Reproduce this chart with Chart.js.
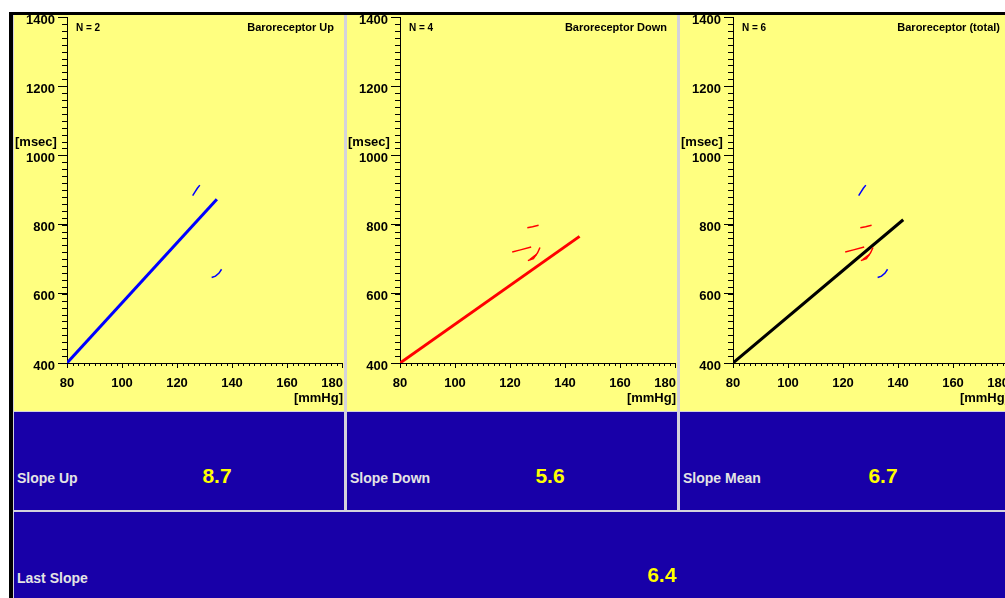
<!DOCTYPE html>
<html>
<head>
<meta charset="utf-8">
<script src="https://cdn.jsdelivr.net/npm/chart.js@4.4.1/dist/chart.umd.min.js"></script>
<style>
  html, body { margin: 0; padding: 0; background: #fff; }
  #frame { position: relative; width: 1005px; height: 598px; overflow: hidden; background: #fff;
           font-family: "Liberation Sans", Arial, sans-serif; }
  .abs { position: absolute; white-space: nowrap; }
  #board { left: 13px; top: 15px; width: 992px; height: 583px; background: #d4d2dc; }
  .bar-top { left: 9px; top: 12px; width: 996px; height: 3px; background: #000; }
  .bar-left { left: 9px; top: 12px; width: 4px; height: 586px; background: #000; }
  .panel { top: 15px; width: 330px; height: 396px; background: #ffff80; }
  .panel canvas { position: absolute; left: 0; top: 0; }
  .ntag { left: 62px; top: 8px; font-size: 10px; line-height: 10px; font-weight: bold; }
  .ptitle { right: 10px; top: 7px; font-size: 11px; line-height: 11px; font-weight: bold; }
  .unit { font-size: 13px; line-height: 13px; font-weight: bold; }
  .cell { background: #1800a8; }
  .lbl { color: #e4e4e4; font-size: 14px; line-height: 14px; font-weight: bold; }
  .val { color: #ffff00; font-size: 21px; line-height: 21px; font-weight: bold; transform: translateX(-50%); }
</style>
</head>
<body>
<div id="frame">
  <div id="board" class="abs"></div>
  <div class="abs bar-top"></div>
  <div class="abs bar-left"></div>
</div>
<script>
  // axis ranges and ticks
  const xRange = [80, 180];
  const yRange = [400, 1400];
  const xTicks = [80, 100, 120, 140, 160, 180];
  const yTicks = [400, 600, 800, 1000, 1200, 1400];
  const xMinorStep = 2;
  const yMinorStep = 20;

  const panelTitles = ["Baroreceptor Up", "Baroreceptor Down", "Baroreceptor (total)"];
  const panelCounts = [2, 4, 6];

  const slopeNames = ["Slope Up", "Slope Down", "Slope Mean"];
  const slopeValues = ["8.7", "5.6", "6.7"];
  const lastSlopeName = "Last Slope";
  const lastSlopeValue = "6.4";

  // regression lines, [mmHg, msec]
  const upFit = [[80, 400], [134.5, 873]];
  const downFit = [[80, 400], [145.3, 766]];
  const meanFit = [[80, 400], [141.9, 814]];

  // sequences, [mmHg, msec]
  const upSeqA = [[125.7, 884], [126.5, 894], [127.4, 905], [128.3, 914]];
  const upSeqB = [[132.6, 647], [134.0, 651], [135.3, 660], [136.2, 671]];
  const downSeqA = [[126.3, 791], [128.2, 794], [130.4, 798]];
  const downSeqB = [[120.8, 721], [123.8, 727], [127.7, 735]];
  const downSeqC = [[126.5, 696], [128.5, 702], [130.0, 718], [130.9, 734]];
  const downSeqD = [[127.2, 699], [128.8, 709], [129.6, 713]];

  const BLUE = "#0000ff", RED = "#ff0000", BLACK = "#000000";
  const panels = [
    { fit: upFit, fitColor: BLUE, seqs: [[upSeqA, BLUE], [upSeqB, BLUE]] },
    { fit: downFit, fitColor: RED, seqs: [[downSeqA, RED], [downSeqB, RED], [downSeqC, RED], [downSeqD, RED]] },
    { fit: meanFit, fitColor: BLACK, seqs: [[upSeqA, BLUE], [upSeqB, BLUE], [downSeqA, RED], [downSeqB, RED], [downSeqC, RED], [downSeqD, RED]] }
  ];

  const TICK_FONT = { family: "Liberation Sans", size: 13, weight: "bold" };

  // minor ticks + x labels, placed through the chart scales
  const axisDecor = {
    id: "axisDecor",
    afterDraw(chart) {
      const { ctx, chartArea: a, scales: { x, y } } = chart;
      ctx.save();
      ctx.strokeStyle = "#000";
      ctx.lineWidth = 1;
      ctx.beginPath();
      for (let v = yRange[0]; v <= yRange[1]; v += yMinorStep) {
        const py = Math.round(y.getPixelForValue(v)) + 0.5;
        ctx.moveTo(a.left - 5, py); ctx.lineTo(a.left, py);
      }
      for (let v = xRange[0]; v <= xRange[1]; v += xMinorStep) {
        const px = Math.round(x.getPixelForValue(v)) + 0.5;
        ctx.moveTo(px, a.bottom); ctx.lineTo(px, a.bottom + 3);
      }
      ctx.stroke();
      ctx.font = "bold 13px 'Liberation Sans'";
      ctx.fillStyle = "#000";
      ctx.textAlign = "center";
      ctx.textBaseline = "alphabetic";
      xTicks.forEach(v => {
        const t = String(v);
        const w = ctx.measureText(t).width;
        const px = Math.min(x.getPixelForValue(v), chart.width - 1 - w / 2);
        ctx.fillText(t, px, a.bottom + 24);
      });
      ctx.restore();
    }
  };

  function pts(list) { return list.map(p => ({ x: p[0], y: p[1] })); }

  function makeChart(canvas, p) {
    const datasets = p.seqs.map(s => ({
      data: pts(s[0]), borderColor: s[1], borderWidth: 1.5, pointRadius: 0, tension: 0, fill: false
    }));
    datasets.push({ data: pts(p.fit), borderColor: p.fitColor, borderWidth: 3, pointRadius: 0, fill: false });

    return new Chart(canvas, {
      type: "line",
      data: { datasets },
      options: {
        responsive: false,
        animation: false,
        events: [],
        layout: { padding: { top: 2, right: 2, left: 0, bottom: 0 } },
        plugins: { legend: { display: false }, tooltip: { enabled: false } },
        scales: {
          x: {
            type: "linear", min: xRange[0], max: xRange[1],
            ticks: { display: false, stepSize: 20 },
            grid: { drawOnChartArea: false, tickLength: 5, color: "#000" },
            border: { color: "#000" },
            afterFit: s => { s.height = 48; s.paddingLeft = 0; s.paddingRight = 0; }
          },
          y: {
            type: "linear", min: yRange[0], max: yRange[1],
            afterBuildTicks: s => { s.ticks = yTicks.map(v => ({ value: v })); },
            ticks: { color: "#000", font: TICK_FONT, padding: 3, labelOffset: 3, callback: v => String(v) },
            grid: { drawOnChartArea: false, tickLength: 9, color: "#000" },
            border: { color: "#000" },
            afterFit: s => { s.width = 53; s.paddingTop = 0; s.paddingBottom = 0; }
          }
        }
      },
      plugins: [axisDecor]
    });
  }

  const frame = document.getElementById("frame");

  function addDiv(parent, cls, text, css) {
    const d = document.createElement("div");
    d.className = "abs " + cls;
    if (text != null) d.textContent = text;
    Object.assign(d.style, css || {});
    parent.appendChild(d);
    return d;
  }

  panels.forEach((p, i) => {
    const left = 14 + 333 * i;
    const panel = addDiv(frame, "panel", null, { left: left + "px" });
    const canvas = document.createElement("canvas");
    canvas.width = 330; canvas.height = 396;
    panel.appendChild(canvas);
    addDiv(panel, "ntag", "N = " + panelCounts[i]);
    addDiv(panel, "ptitle", panelTitles[i]);
    addDiv(panel, "unit", "[msec]", { left: "1px", top: "120px" });
    addDiv(panel, "unit", "[mmHg]", { right: "1px", top: "376px" });
    makeChart(canvas, p);

    addDiv(frame, "cell", null, { left: left + "px", top: "412px", width: "330px", height: "98px" });
    addDiv(frame, "lbl", slopeNames[i], { left: (left + 3) + "px", top: "471px" });
    addDiv(frame, "val", slopeValues[i], { left: (left + 203) + "px", top: "465px" });
  });

  addDiv(frame, "cell", null, { left: "14px", top: "512px", width: "991px", height: "86px" });
  addDiv(frame, "lbl", lastSlopeName, { left: "17px", top: "571px" });
  addDiv(frame, "val", lastSlopeValue, { left: "662px", top: "564px" });
</script>
</body>
</html>
